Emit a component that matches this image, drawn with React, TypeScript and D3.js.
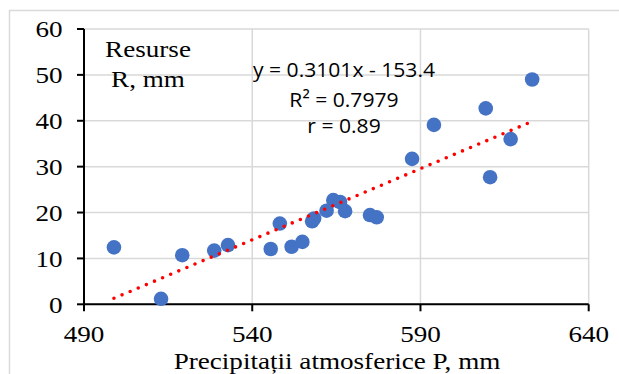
import React from "react";
import * as d3 from "d3";

const precipitation = [498.9, 512.9, 519.2, 528.7, 532.8, 545.5, 548.2, 551.7, 554.9, 557.8, 558.4, 562.1, 564.1, 566.1, 567.6, 575.0, 577.0, 587.5, 594.0, 609.4, 610.7, 616.8, 623.2];
const resources = [12.4, 1.2, 10.7, 11.7, 12.9, 12.05, 17.6, 12.55, 13.6, 18.1, 18.7, 20.4, 22.7, 22.3, 20.3, 19.45, 18.96, 31.7, 39.1, 42.7, 27.7, 36.0, 49.0];
const xTicks = [490, 540, 590, 640];
const yTicks = [0, 10, 20, 30, 40, 50, 60];
const slope = 0.3101;
const intercept = -153.4;
const equationLines = ["y = 0.3101x - 153.4", "R² = 0.7979", "r = 0.89"];
const yTitleLines = ["Resurse", "R, mm"];
const xTitle = "Precipitații atmosferice P, mm";

const W = 619;
const H = 374;
const SX = 1.13;

export default function App() {
  const x = d3.scaleLinear().domain([490, 640]).range([84, 588.7]);
  const y = d3.scaleLinear().domain([0, 60]).range([304.3, 29]);
  const serif = "'Liberation Serif', 'Times New Roman', serif";
  const sans = "'Open Sans', 'Noto Sans', sans-serif";
  const xmin = d3.min(precipitation) as number;
  const xmax = d3.max(precipitation) as number;
  const trend = d3.line<number>().x((d) => x(d)).y((d) => y(slope * d + intercept));
  const pts = precipitation.map((p, i) => ({ p, r: resources[i] }));
  const [x0, x1] = x.range();
  const [y0, y1] = y.range();
  const tr = (tx: number, ty: number, s: number = SX) => `translate(${tx},${ty}) scale(${s},1)`;
  return (
    <div style={{ position: "fixed", left: 0, top: 0, width: W, height: H, background: "#fff" }}>
      <svg width={W} height={H} style={{ display: "block" }}>
        <rect x={0} y={0} width={W} height={H} fill="#fff" />
        <rect x={9.5} y={10.5} width={W + 50} height={H + 50} fill="none" stroke="#d9d9d9" strokeWidth={1.5} />
        {yTicks.map((t) => (
          <line key={"gy" + t} x1={x0} x2={x1} y1={y(t)} y2={y(t)} stroke="#d9d9d9" strokeWidth={1.5} />
        ))}
        {xTicks.map((t) => (
          <line key={"gx" + t} x1={x(t)} x2={x(t)} y1={y0} y2={y1} stroke="#d9d9d9" strokeWidth={1.5} />
        ))}
        <line x1={x0} x2={x0} y1={y1} y2={y0} stroke="#000" strokeWidth={2} />
        <line x1={x0} x2={x1} y1={y0} y2={y0} stroke="#000" strokeWidth={2} />
        {yTicks.map((t) => (
          <line key={"ty" + t} x1={x0 - 7} x2={x0} y1={y(t)} y2={y(t)} stroke="#000" strokeWidth={2} />
        ))}
        {xTicks.map((t) => (
          <line key={"tx" + t} x1={x(t)} x2={x(t)} y1={y0} y2={y0 + 7} stroke="#000" strokeWidth={2} />
        ))}
        {yTicks.map((t) => (
          <text key={"ly" + t} transform={tr(62.5, y(t) + 8.3)} textAnchor="end" fontFamily={serif} fontSize={24} fill="#000">
            {t}
          </text>
        ))}
        {xTicks.map((t) => (
          <text key={"lx" + t} transform={tr(x(t), 341.5)} textAnchor="middle" fontFamily={serif} fontSize={24} fill="#000">
            {t}
          </text>
        ))}
        {pts.map((d, i) => (
          <circle key={"p" + i} cx={x(d.p)} cy={y(d.r)} r={7.3} fill="#4472C4" />
        ))}
        <path
          d={trend([xmin, xmax]) || ""}
          fill="none"
          stroke="#FF0000"
          strokeWidth={3.6}
          strokeLinecap="round"
          strokeDasharray="0 8.8"
        />
        {yTitleLines.map((s, i) => (
          <text key={"yt" + i} transform={tr(148, 57 + i * 30)} textAnchor="middle" fontFamily={serif} fontSize={24} fill="#000">
            {s}
          </text>
        ))}
        {equationLines.map((s, i) => (
          <text key={"eq" + i} transform={tr(344, [77, 107, 133][i], 1.03)} textAnchor="middle" fontFamily={sans} fontSize={20.5} fill="#000">
            {s}
          </text>
        ))}
        <text transform={tr(337, 368.5, 1.154)} textAnchor="middle" fontFamily={serif} fontSize={23.5} fill="#000">
          {xTitle}
        </text>
      </svg>
    </div>
  );
}
